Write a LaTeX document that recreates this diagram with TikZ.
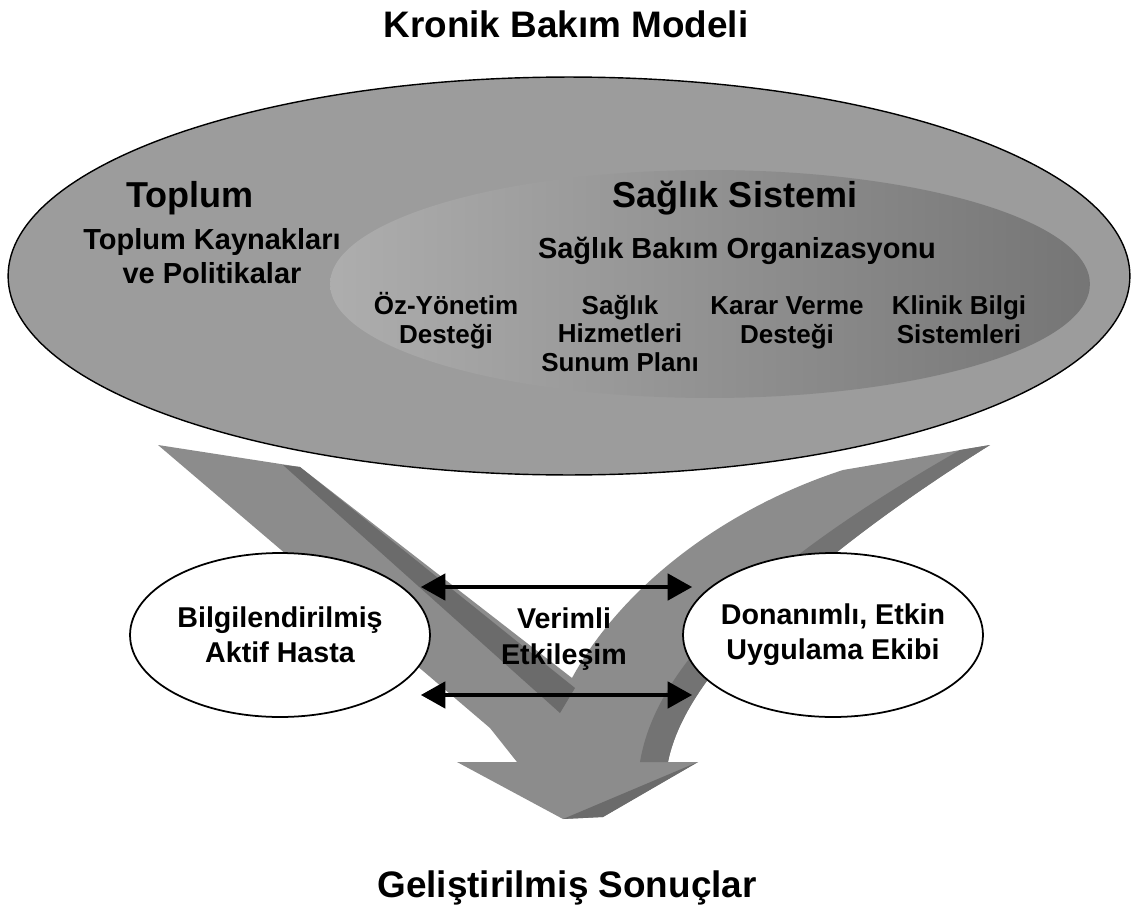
\documentclass[tikz,border=0pt]{standalone}
\usepackage{fontspec}
\setmainfont{Liberation Sans}
\usepackage{tikz}
\usetikzlibrary{arrows.meta, positioning, shapes.geometric, calc}

\begin{document}
\begin{tikzpicture}[
  x=0.02cm, y=-0.02cm,
  ttl/.style={font=\fontsize{21}{25}\selectfont\bfseries, inner sep=0pt},
  head/.style={font=\fontsize{20.5}{24}\selectfont\bfseries, inner sep=0pt},
  sub/.style={font=\fontsize{16.5}{18.8}\selectfont\bfseries, align=center, inner sep=0pt},
  item/.style={font=\fontsize{14.8}{16}\selectfont\bfseries, align=center, inner sep=0pt},
  sm/.style={font=\fontsize{16.3}{20}\selectfont\bfseries, align=center, inner sep=0pt},
  bigell/.style={ellipse, draw=black, line width=0.8pt, fill=black!39, minimum width=22.44cm, minimum height=7.96cm, inner sep=0pt},
  inell/.style={ellipse, left color=black!32, right color=black!54, minimum width=15.2cm, minimum height=4.56cm, inner sep=0pt},
  smell/.style={ellipse, draw=black, line width=1pt, fill=white, minimum width=6cm, minimum height=3.28cm, inner sep=0pt},
  cift/.style={{Triangle[length=14pt, width=15pt]}-{Triangle[length=14pt, width=15pt]}, line width=2.3pt},
]
\useasboundingbox (0,0) rectangle (1133,916);
\fill[white] (0,0) rectangle (1133,916);

% Title
\node[ttl, anchor=base] (kronik) at (566,37) {Kronik Bakım Modeli};

% Community and health system
\node[bigell] (toplum) at (569,276) {};
\node[inell] (saglik) at (710,284) {};

\node[head, anchor=base] (toplumbaslik) at (190,207) {Toplum};
\node[sub, anchor=base] (kaynak) at (212,283) {Toplum Kaynakları\\ve Politikalar};
\node[head, anchor=base] (sistembaslik) at (735,207) {Sağlık Sistemi};
\node[sub, anchor=base] (organizasyon) at (737,258) {Sağlık Bakım Organizasyonu};

\node[item, anchor=base] (ozyonetim) at (446,343) {Öz-Yönetim\\Desteği};
\node[item, anchor=base] (sunum) at (620,371) {Sağlık\\Hizmetleri\\Sunum Planı};
\node[item, anchor=base] (karar) at (787,343) {Karar Verme\\Desteği};
\node[item, anchor=base] (klinik) at (959,343) {Klinik Bilgi\\Sistemleri};

% Big V arrow
\fill[black!45] (158,445) -- (300,467) -- (572,678)
  .. controls (620,590) and (720,510) .. (843,470) -- (990,445)
  .. controls (870,520) and (690,650) .. (668,762) -- (698,762)
  -- (603,817) -- (563,819) -- (457,762) -- (517,762) -- (490,728) -- cycle;
\fill[black!58] (283,465) -- (300,467) -- (575,688) -- (560,713) -- cycle;
\fill[black!55] (960,450) -- (990,445) .. controls (870,520) and (690,650) .. (668,762)
  -- (640,762) .. controls (660,640) and (820,530) .. (960,450) -- cycle;
\fill[black!58] (563,819) -- (603,817) -- (698,762) -- cycle;

% Patient and team
\node[smell] (hasta) at (280,635) {};
\node[smell] (ekip) at (833,635) {};
\node[sm] (hastayazi) at (hasta) {Bilgilendirilmiş\\Aktif Hasta};
\node[sm] (ekipyazi) at (ekip) {Donanımlı, Etkin\\Uygulama Ekibi};

\draw[cift] ([xshift=-0.2cm, yshift=0.96cm]hasta.east) -- ([xshift=0.2cm, yshift=0.96cm]ekip.west);
\draw[cift] ([xshift=-0.2cm, yshift=-1.2cm]hasta.east) -- ([xshift=0.2cm, yshift=-1.2cm]ekip.west);
\node[sm, anchor=base] (etkilesim) at (564,664) {Verimli\\Etkileşim};

% Outcome
\node[ttl, anchor=base] (sonuc) at (567,897) {Geliştirilmiş Sonuçlar};
\end{tikzpicture}
\end{document}
